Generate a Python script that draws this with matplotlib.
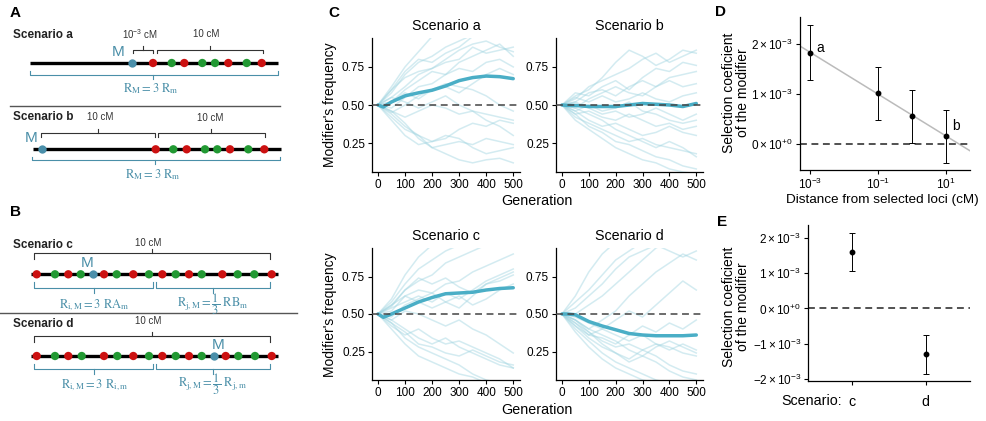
import matplotlib
matplotlib.use("Agg")
import matplotlib.pyplot as plt
import numpy as np

plt.rcParams['font.family'] = ['Liberation Sans', 'DejaVu Sans']
plt.rcParams['mathtext.fontset'] = 'custom'
plt.rcParams['mathtext.rm'] = 'Liberation Sans'
plt.rcParams['mathtext.it'] = 'Liberation Sans:italic'
plt.rcParams['mathtext.bf'] = 'Liberation Sans:bold'

# ---------------- data ----------------
gens = [0, 50, 100, 150, 200, 250, 300, 350, 400, 450, 500]
mean_gens = [0, 20, 50, 100, 150, 200, 250, 300, 350, 400, 450, 500]

traces_a = [
    [0.50, 0.62, 0.75, 0.85, 0.95, 0.98, 0.98, 0.98, 0.98, 0.98, 0.98],
    [0.50, 0.58, 0.70, 0.78, 0.82, 0.88, 0.92, 0.96, 0.98, 0.98, 0.98],
    [0.50, 0.55, 0.62, 0.70, 0.74, 0.80, 0.86, 0.90, 0.92, 0.88, 0.85],
    [0.50, 0.60, 0.72, 0.80, 0.78, 0.84, 0.88, 0.95, 0.98, 0.98, 0.98],
    [0.50, 0.52, 0.60, 0.66, 0.72, 0.70, 0.78, 0.82, 0.86, 0.90, 0.82],
    [0.50, 0.48, 0.55, 0.62, 0.64, 0.70, 0.74, 0.72, 0.78, 0.80, 0.75],
    [0.50, 0.45, 0.50, 0.56, 0.60, 0.62, 0.58, 0.64, 0.70, 0.74, 0.70],
    [0.50, 0.52, 0.58, 0.54, 0.60, 0.64, 0.62, 0.60, 0.56, 0.50, 0.46],
    [0.50, 0.46, 0.42, 0.46, 0.50, 0.48, 0.44, 0.46, 0.40, 0.36, 0.30],
    [0.50, 0.44, 0.36, 0.30, 0.26, 0.28, 0.34, 0.38, 0.36, 0.40, 0.38],
    [0.50, 0.42, 0.34, 0.30, 0.22, 0.18, 0.14, 0.12, 0.14, 0.15, 0.12],
    [0.50, 0.46, 0.38, 0.28, 0.22, 0.24, 0.26, 0.24, 0.28, 0.26, 0.24],
    [0.50, 0.40, 0.30, 0.24, 0.26, 0.30, 0.28, 0.22, 0.18, 0.20, 0.22],
    [0.50, 0.55, 0.52, 0.48, 0.52, 0.56, 0.50, 0.46, 0.44, 0.42, 0.40],
    [0.50, 0.60, 0.68, 0.72, 0.74, 0.78, 0.80, 0.88, 0.84, 0.86, 0.88],
]
traces_b = [
    [0.50, 0.56, 0.60, 0.68, 0.78, 0.86, 0.82, 0.76, 0.80, 0.86, 0.84],
    [0.50, 0.54, 0.62, 0.66, 0.70, 0.74, 0.80, 0.84, 0.78, 0.82, 0.86],
    [0.50, 0.58, 0.56, 0.62, 0.66, 0.60, 0.68, 0.74, 0.72, 0.78, 0.76],
    [0.50, 0.52, 0.58, 0.60, 0.56, 0.62, 0.66, 0.62, 0.68, 0.70, 0.72],
    [0.50, 0.48, 0.54, 0.58, 0.62, 0.58, 0.56, 0.62, 0.66, 0.62, 0.64],
    [0.50, 0.55, 0.52, 0.56, 0.52, 0.54, 0.58, 0.54, 0.52, 0.56, 0.58],
    [0.50, 0.46, 0.50, 0.46, 0.48, 0.52, 0.46, 0.44, 0.40, 0.38, 0.40],
    [0.50, 0.44, 0.46, 0.42, 0.40, 0.44, 0.40, 0.36, 0.38, 0.34, 0.36],
    [0.50, 0.46, 0.40, 0.36, 0.38, 0.34, 0.30, 0.32, 0.36, 0.32, 0.30],
    [0.50, 0.42, 0.38, 0.34, 0.30, 0.26, 0.28, 0.24, 0.22, 0.20, 0.18],
    [0.50, 0.44, 0.36, 0.32, 0.26, 0.24, 0.20, 0.16, 0.14, 0.10, 0.08],
    [0.50, 0.40, 0.34, 0.28, 0.22, 0.18, 0.14, 0.12, 0.08, 0.06, 0.05],
    [0.50, 0.52, 0.48, 0.44, 0.46, 0.42, 0.44, 0.48, 0.44, 0.40, 0.44],
    [0.50, 0.48, 0.44, 0.40, 0.34, 0.30, 0.26, 0.22, 0.26, 0.22, 0.16],
]
traces_c = [
    [0.50, 0.60, 0.76, 0.88, 0.96, 0.98, 0.98, 0.98, 0.98, 0.98, 0.98],
    [0.50, 0.58, 0.70, 0.80, 0.86, 0.92, 0.96, 0.98, 0.98, 0.98, 0.98],
    [0.50, 0.55, 0.66, 0.72, 0.76, 0.84, 0.88, 0.92, 0.96, 0.98, 0.98],
    [0.50, 0.52, 0.62, 0.66, 0.64, 0.70, 0.72, 0.78, 0.82, 0.86, 0.90],
    [0.50, 0.54, 0.58, 0.62, 0.58, 0.64, 0.60, 0.66, 0.72, 0.76, 0.80],
    [0.50, 0.56, 0.62, 0.58, 0.54, 0.58, 0.62, 0.56, 0.60, 0.66, 0.70],
    [0.50, 0.48, 0.56, 0.60, 0.64, 0.58, 0.54, 0.62, 0.70, 0.72, 0.76],
    [0.50, 0.46, 0.52, 0.50, 0.46, 0.42, 0.46, 0.40, 0.36, 0.30, 0.24],
    [0.50, 0.42, 0.36, 0.40, 0.34, 0.30, 0.32, 0.28, 0.24, 0.20, 0.14],
    [0.50, 0.44, 0.34, 0.28, 0.24, 0.20, 0.16, 0.10, 0.06, 0.04, 0.02],
    [0.50, 0.40, 0.30, 0.22, 0.18, 0.14, 0.10, 0.08, 0.04, 0.02, 0.02],
    [0.50, 0.46, 0.40, 0.34, 0.30, 0.34, 0.28, 0.24, 0.20, 0.16, 0.14],
    [0.50, 0.56, 0.66, 0.74, 0.70, 0.74, 0.68, 0.64, 0.70, 0.74, 0.78],
    [0.50, 0.44, 0.38, 0.30, 0.28, 0.24, 0.22, 0.26, 0.22, 0.18, 0.16],
]
traces_d = [
    [0.50, 0.62, 0.78, 0.90, 0.98, 0.98, 0.98, 0.98, 0.98, 0.98, 0.98],
    [0.50, 0.58, 0.66, 0.76, 0.86, 0.92, 0.98, 0.98, 0.98, 0.98, 0.98],
    [0.50, 0.54, 0.62, 0.70, 0.80, 0.88, 0.92, 0.96, 0.92, 0.88, 0.92],
    [0.50, 0.50, 0.56, 0.62, 0.70, 0.78, 0.86, 0.94, 0.98, 0.98, 0.98],
    [0.50, 0.46, 0.40, 0.46, 0.52, 0.62, 0.70, 0.78, 0.84, 0.90, 0.86],
    [0.50, 0.48, 0.44, 0.40, 0.46, 0.52, 0.48, 0.56, 0.64, 0.72, 0.66],
    [0.50, 0.44, 0.36, 0.34, 0.30, 0.36, 0.42, 0.38, 0.44, 0.40, 0.46],
    [0.50, 0.42, 0.34, 0.28, 0.24, 0.20, 0.26, 0.30, 0.28, 0.24, 0.22],
    [0.50, 0.40, 0.32, 0.24, 0.18, 0.14, 0.10, 0.06, 0.04, 0.02, 0.02],
    [0.50, 0.38, 0.28, 0.20, 0.14, 0.10, 0.06, 0.04, 0.02, 0.02, 0.02],
    [0.50, 0.44, 0.38, 0.30, 0.24, 0.18, 0.22, 0.18, 0.12, 0.08, 0.06],
    [0.50, 0.46, 0.40, 0.36, 0.32, 0.26, 0.22, 0.28, 0.32, 0.28, 0.24],
    [0.50, 0.46, 0.38, 0.32, 0.28, 0.30, 0.26, 0.22, 0.16, 0.12, 0.10],
    [0.50, 0.42, 0.36, 0.40, 0.36, 0.32, 0.36, 0.30, 0.26, 0.30, 0.26],
]
mean_a = [0.50, 0.487, 0.52, 0.56, 0.58, 0.597, 0.625, 0.66, 0.68, 0.69, 0.686, 0.673]
mean_b = [0.50, 0.497, 0.497, 0.49, 0.49, 0.49, 0.50, 0.51, 0.505, 0.50, 0.49, 0.51]
mean_c = [0.50, 0.478, 0.50, 0.54, 0.58, 0.61, 0.635, 0.64, 0.645, 0.66, 0.67, 0.675]
mean_d = [0.50, 0.50, 0.495, 0.45, 0.42, 0.395, 0.37, 0.36, 0.355, 0.355, 0.355, 0.36]

# panel D
dist_cm = [1e-3, 1e-1, 1e0, 1e1]
sel_d = [1.82e-3, 1.01e-3, 0.55e-3, 0.15e-3]
err_d = [0.55e-3, 0.53e-3, 0.53e-3, 0.53e-3]
# panel E
scen_e = ['c', 'd']
sel_e = [1.60e-3, -1.30e-3]
err_e = [0.54e-3, 0.54e-3]

# schematic loci (position along chromosome, colour code)
loci_a = [153, 171.7, 184.3, 202.3, 215, 228.3, 246.7, 261.7]
loci_b = [155.7, 173.3, 186.7, 205, 217.3, 230, 248.3, 264.3]
kind_ab = ['r', 'g', 'r', 'g', 'g', 'r', 'g', 'r']
loci_c = [36.7, 55, 68.3, 80.7, 104, 116.7, 133.3, 149, 162.3, 175.7, 189, 201.7, 222.3, 237.7, 254.3, 271.7]
loci_d = [36.7, 55, 68.3, 81.7, 104, 117.3, 133.3, 149, 162.3, 175.7, 189, 201.7, 225.7, 238.3, 255, 271.7]
kind_cd = ['r', 'g', 'r', 'g', 'r', 'g', 'r', 'g', 'r', 'g', 'r', 'g', 'r', 'g', 'g', 'r']
mod_pos = {'a': 131.7, 'b': 41.7, 'c': 92.7, 'd': 214}

# ---------------- figure ----------------
W, H = 986, 421
fig = plt.figure(figsize=(W / 100, H / 100), dpi=100)

def px_axes(x0, y0, x1, y1):
    return fig.add_axes([x0 / W, 1 - y1 / H, (x1 - x0) / W, (y1 - y0) / H])

def ftext(x, y, s, **kw):
    fig.text(x / W, 1 - y / H, s, **kw)

TEAL = '#4aaec6'
LIGHT = '#9fd4e0'
MBLUE = '#4a8faa'
TXTBLUE = '#4a8fa8'
RED = '#cc1111'
GREEN = '#229933'

def style(ax):
    for s in ['top', 'right']:
        ax.spines[s].set_visible(False)
    for s in ['left', 'bottom']:
        ax.spines[s].set_linewidth(0.9)
    ax.tick_params(length=3, width=0.8, labelsize=8.5, pad=2, colors='black')
    ax.set_facecolor('none')

# ---------- schematic (A, B) in pixel coordinates ----------
dax = fig.add_axes([0, 0, 1, 1])
dax.set_xlim(0, W)
dax.set_ylim(H, 0)
dax.axis('off')

def brace(x0, x1, xc, y, tip, end, color, lw=0.8):
    dax.plot([x0, x0, x1, x1], [end, y, y, end], color=color, lw=lw, solid_joinstyle='round')
    dax.plot([xc, xc], [y, tip], color=color, lw=lw)

def chromosome(x0, x1, y, loci, kinds, mpos):
    dax.plot([x0, x1], [y, y], color='black', lw=2.4, solid_capstyle='butt', zorder=2)
    cols = [RED if k == 'r' else GREEN for k in kinds]
    dax.scatter(loci, [y] * len(loci), s=36, c=cols, zorder=3, linewidths=0)
    dax.scatter([mpos], [y], s=36, c=MBLUE, zorder=3, linewidths=0)

def rlabel(x, y, s):
    dax.text(x, y, s, ha='center', va='center', color=TXTBLUE, fontsize=9, math_fontfamily='stix')

ftext(10, 13, 'A', fontsize=11, fontweight='bold', va='center')
ftext(10, 212, 'B', fontsize=11, fontweight='bold', va='center')

# scenario a
dax.text(13, 35, 'Scenario a', fontsize=8.5, fontweight='bold', va='center', color='#222222')
dax.text(140, 34, r'10$^{-3}$ cM', fontsize=7, ha='center', va='center', color='#333333')
dax.text(206, 34, '10 cM', fontsize=7, ha='center', va='center', color='#333333')
brace(133, 153, 143, 49.5, 46, 53, '#333333')
brace(157, 263, 210, 49.5, 46, 53, '#333333')
dax.text(118, 52, 'M', fontsize=11, color=TXTBLUE, ha='center', va='center')
chromosome(30, 278, 63, loci_a, kind_ab, mod_pos['a'])
brace(30, 278, 153, 75, 78.5, 70.5, TXTBLUE)
rlabel(151, 89, r'$\mathrm{R_M = 3\ R_m}$')
dax.plot([10, 280], [106, 106], color='#555555', lw=1)

# scenario b
dax.text(13, 117, 'Scenario b', fontsize=8.5, fontweight='bold', va='center', color='#222222')
dax.text(100, 117, '10 cM', fontsize=7, ha='center', va='center', color='#333333')
dax.text(210, 118, '10 cM', fontsize=7, ha='center', va='center', color='#333333')
brace(40.7, 155, 98, 132.7, 129.3, 136.7, '#333333')
brace(158, 265, 211, 132.7, 129.3, 136.7, '#333333')
dax.text(30.7, 138, 'M', fontsize=11, color=TXTBLUE, ha='center', va='center')
chromosome(33, 281, 149.3, loci_b, kind_ab, mod_pos['b'])
brace(32, 280, 155, 160, 164, 156.5, TXTBLUE)
rlabel(153, 175, r'$\mathrm{R_M = 3\ R_m}$')

# scenario c
dax.text(13, 245, 'Scenario c', fontsize=8.5, fontweight='bold', va='center', color='#222222')
dax.text(148, 242.7, '10 cM', fontsize=7, ha='center', va='center', color='#333333')
brace(34, 270, 152, 252.7, 249.3, 259, '#333333')
dax.text(87.3, 263.3, 'M', fontsize=11, color=TXTBLUE, ha='center', va='center')
chromosome(30.7, 278, 274.3, loci_c, kind_cd, mod_pos['c'])
brace(34, 152.7, 94.3, 288.3, 293.3, 282, TXTBLUE)
brace(156, 270, 212.7, 288.3, 293.3, 282, TXTBLUE)
rlabel(94.3, 305, r'$\mathrm{R_{i,M} = 3\ RA_m}$')
rlabel(213, 304, r'$\mathrm{R_{j,M} = \dfrac{1}{3}\ RB_m}$')
dax.plot([0, 297], [312.7, 312.7], color='#555555', lw=1)

# scenario d
dax.text(13, 324.3, 'Scenario d', fontsize=8.5, fontweight='bold', va='center', color='#222222')
dax.text(148, 320.7, '10 cM', fontsize=7, ha='center', va='center', color='#333333')
brace(34, 270, 152, 336, 331.5, 342, '#333333')
dax.text(218.3, 345, 'M', fontsize=11, color=TXTBLUE, ha='center', va='center')
chromosome(30.7, 278, 356, loci_d, kind_cd, mod_pos['d'])
brace(34, 152.7, 94.3, 369.3, 374, 363.5, TXTBLUE)
brace(156, 270, 212.7, 369.3, 374, 363.5, TXTBLUE)
rlabel(94.3, 385, r'$\mathrm{R_{i,M} = 3\ R_{i,m}}$')
rlabel(213, 384, r'$\mathrm{R_{j,M} = \dfrac{1}{3}\ R_{j,m}}$')

# ---------- panel C ----------
boxes = [(372, 38, 520, 172), (556, 38, 703, 172), (372, 248, 520, 380), (556, 248, 703, 380)]
titles = ['Scenario a', 'Scenario b', 'Scenario c', 'Scenario d']
all_traces = [traces_a, traces_b, traces_c, traces_d]
all_means = [mean_a, mean_b, mean_c, mean_d]
for box, title, trs, mn in zip(boxes, titles, all_traces, all_means):
    ax = px_axes(*box)
    style(ax)
    for tr in trs:
        ax.plot(gens, tr, color=LIGHT, lw=1.1, alpha=0.45, zorder=1)
    ax.plot(mean_gens, mn, color=TEAL, lw=2.5, zorder=3, solid_capstyle='round')
    ax.axhline(0.5, color='#444444', lw=1.1, dashes=(4.5, 3), zorder=4)
    ax.set_xlim(-22, 525)
    ax.set_ylim(0.06, 0.94)
    ax.set_xticks([0, 100, 200, 300, 400, 500])
    ax.set_yticks([0.25, 0.50, 0.75])
    ax.set_yticklabels(['0.25', '0.50', '0.75'])
    ax.set_title(title, fontsize=10.3, pad=6)

ftext(328, 13, 'C', fontsize=11, fontweight='bold', va='center')
ftext(330, 105, "Modifier's frequency", fontsize=10, rotation=90, ha='center', va='center')
ftext(330, 315, "Modifier's frequency", fontsize=10, rotation=90, ha='center', va='center')
ftext(537, 201, 'Generation', fontsize=10.3, ha='center', va='center')
ftext(537, 410, 'Generation', fontsize=10.3, ha='center', va='center')

# ---------- panel D ----------
axd = px_axes(800, 17, 970, 170)
style(axd)
axd.set_xscale('log')
xl = (10 ** -3.29, 10 ** 1.7)
axd.set_xlim(*xl)
axd.set_ylim(-0.53e-3, 2.53e-3)
slope, icpt = np.polyfit(np.log10(dist_cm), sel_d, 1)
lx = np.array([np.log10(xl[0]), np.log10(xl[1])])
axd.plot(10 ** lx, icpt + slope * lx, color='#bbbbbb', lw=1.1, zorder=1)
axd.axhline(0, color='#222222', lw=1.1, dashes=(4.5, 3), zorder=2)
axd.errorbar(dist_cm, sel_d, yerr=err_d, fmt='o', color='black', ms=3.2,
             elinewidth=0.7, capsize=2, capthick=0.7, zorder=3)
axd.text(dist_cm[0] * 1.5, sel_d[0] + 0.1e-3, 'a', fontsize=10, va='center')
axd.text(dist_cm[3] * 1.5, sel_d[3] + 0.2e-3, 'b', fontsize=10, va='center')
axd.set_xticks([1e-3, 1e-1, 1e1])
axd.set_xticklabels([r'$10^{-3}$', r'$10^{-1}$', r'$10^{1}$'])
axd.minorticks_off()
axd.set_yticks([0, 1e-3, 2e-3])
axd.set_yticklabels([r'$0\times10^{+0}$', r'$1\times10^{-3}$', r'$2\times10^{-3}$'])
ftext(715, 12, 'D', fontsize=11, fontweight='bold', va='center')
ftext(736, 93, 'Selection coeficient\nof the modifier', fontsize=10, rotation=90,
      ha='center', va='center', linespacing=1.05)
ftext(882, 200, 'Distance from selected loci (cM)', fontsize=9.7, ha='center', va='center')

# ---------- panel E ----------
axe = px_axes(808, 225, 970, 381)
style(axe)
xe = [1, 2]
axe.set_xlim(0.4, 2.6)
axe.set_ylim(-2.05e-3, 2.36e-3)
axe.axhline(0, color='#222222', lw=1.1, dashes=(4.5, 3), zorder=2)
axe.errorbar(xe, sel_e, yerr=err_e, fmt='o', color='black', ms=3.2,
             elinewidth=0.7, capsize=2, capthick=0.7, zorder=3)
axe.set_xticks(xe)
axe.set_xticklabels(scen_e, fontsize=10.3)
axe.tick_params(axis='x', pad=7)
axe.set_yticks([-2e-3, -1e-3, 0, 1e-3, 2e-3])
axe.set_yticklabels([r'$-2\times10^{-3}$', r'$-1\times10^{-3}$', r'$0\times10^{+0}$',
                     r'$1\times10^{-3}$', r'$2\times10^{-3}$'])
ftext(717, 222, 'E', fontsize=11, fontweight='bold', va='center')
ftext(736, 307, 'Selection coeficient\nof the modifier', fontsize=10, rotation=90,
      ha='center', va='center', linespacing=1.05)
ftext(842, 401, 'Scenario:', fontsize=10.3, ha='right', va='center')

fig.savefig('out.png', dpi=100)
